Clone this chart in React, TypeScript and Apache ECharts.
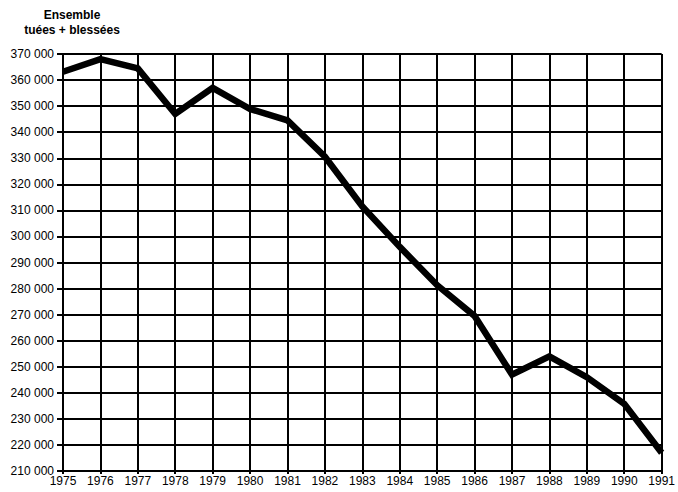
import React, { useEffect, useRef } from "react";
import * as echarts from "echarts";

const years = ["1975","1976","1977","1978","1979","1980","1981","1982","1983","1984","1985","1986","1987","1988","1989","1990","1991"];
const values = [363200, 368000, 364500, 347000, 357000, 348900, 344500, 330600, 311500, 296000, 281300, 269500, 247000, 254000, 246000, 235800, 217000];
const titleLines = ["Ensemble", "tuées + blessées"];

const font = "'Liberation Sans', Arial, sans-serif";

export default function App() {
  const ref = useRef<HTMLDivElement>(null);
  useEffect(() => {
    const chart = echarts.init(ref.current!, null, { renderer: "svg" });
    chart.setOption({
      animation: false,
      backgroundColor: "#ffffff",
      title: {
        text: titleLines.join("\n"),
        left: 67,
        top: 2,
        textAlign: "center",
        textStyle: { fontFamily: font, fontWeight: "bold", fontSize: 12, color: "#000", lineHeight: 15 },
      },
      grid: { left: 63, right: 10, top: 54, bottom: 21, containLabel: false },
      xAxis: {
        type: "category",
        data: years,
        boundaryGap: false,
        axisLine: { lineStyle: { color: "#000", width: 2 } },
        axisTick: { show: true, length: 3, lineStyle: { color: "#000", width: 2 } },
        axisLabel: { color: "#000", fontFamily: font, fontSize: 12, margin: 4, interval: 0 },
        splitLine: { show: true, lineStyle: { color: "#000", width: 2 } },
      },
      yAxis: {
        type: "value",
        min: 210000,
        max: 370000,
        interval: 10000,
        axisLine: { show: true, lineStyle: { color: "#000", width: 2 } },
        axisTick: { show: true, length: 6, lineStyle: { color: "#000", width: 2 } },
        axisLabel: {
          color: "#000",
          fontFamily: font,
          fontSize: 12,
          margin: 9,
          formatter: (v: number) => {
            const s = String(v);
            return s.slice(0, s.length - 3) + " " + s.slice(s.length - 3);
          },
        },
        splitLine: { show: true, lineStyle: { color: "#000", width: 2 } },
      },
      series: [
        {
          type: "line",
          data: values,
          symbol: "none",
          lineStyle: { color: "#000", width: 6.5, join: "miter" },
        },
      ],
    });
    return () => chart.dispose();
  }, []);
  return <div ref={ref} style={{ width: 678, height: 492, position: "absolute", left: 0, top: 0 }} />;
}
